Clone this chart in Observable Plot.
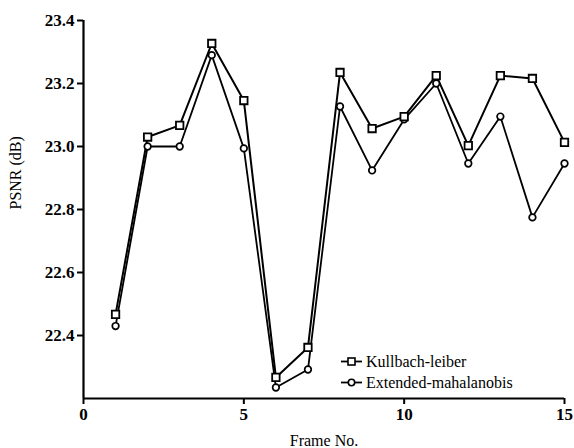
<!DOCTYPE html>
<html>
<head>
<meta charset="utf-8">
<script src="https://cdn.jsdelivr.net/npm/d3@7"></script>
<script src="https://cdn.jsdelivr.net/npm/@observablehq/plot@0.6"></script>
<style>
  html, body { margin: 0; padding: 0; background: #fff; }
  #wrap { position: relative; width: 574px; height: 448px; }
  #wrap svg text { font-family: 'Liberation Serif', 'Times New Roman', Times, 'DejaVu Serif', serif; }
  #legend { position: absolute; left: 340px; top: 351px; font-family: 'Liberation Serif', 'Times New Roman', Times, 'DejaVu Serif', serif; font-size: 16px; color: #000; }
  #legend .row { display: flex; align-items: center; height: 21px; }
  #legend svg { margin-right: 4px; }
</style>
</head>
<body>
<div id="wrap"><div id="legend"></div></div>
<script>
const frames = [1, 2, 3, 4, 5, 6, 7, 8, 9, 10, 11, 12, 13, 14, 15];
const kullback = [22.467, 23.03, 23.067, 23.327, 23.146, 22.267, 22.362, 23.235, 23.057, 23.095, 23.225, 23.003, 23.225, 23.216, 23.013];
const extended = [22.43, 23.0, 23.0, 23.29, 22.994, 22.235, 22.292, 23.127, 22.924, 23.086, 23.2, 22.946, 23.095, 22.775, 22.946];
const seriesNames = ["Kullbach-leiber", "Extended-mahalanobis"];
const xTicks = [0, 5, 10, 15];
const yTicks = [22.4, 22.6, 22.8, 23.0, 23.2, 23.4];

const kData = frames.map((f, i) => ({frame: f, psnr: kullback[i]}));
const eData = frames.map((f, i) => ({frame: f, psnr: extended[i]}));

const chart = Plot.plot({
  width: 574,
  height: 448,
  marginLeft: 83,
  marginRight: 10,
  marginTop: 20,
  marginBottom: 50,
  style: {fontSize: "15px", color: "#000", background: "#fff"},
  x: {domain: [0, 15]},
  y: {domain: [22.2, 23.4]},
  marks: [
    Plot.axisX({ticks: xTicks, tickSize: 6, tickPadding: 3, strokeWidth: 2, fontWeight: "bold", fontSize: 17, label: null}),
    Plot.axisY({ticks: yTicks, tickSize: 6, tickPadding: 3, strokeWidth: 2, fontWeight: "bold", fontSize: 17, tickFormat: d3.format(".1f"), label: null}),
    Plot.ruleX([0], {strokeWidth: 2.2}),
    Plot.ruleY([22.2], {strokeWidth: 2.2}),
    Plot.line(eData, {x: "frame", y: "psnr", stroke: "#000", strokeWidth: 1.8}),
    Plot.line(kData, {x: "frame", y: "psnr", stroke: "#000", strokeWidth: 2}),
    Plot.dot(eData, {x: "frame", y: "psnr", symbol: "circle", r: 3.3, fill: "#fff", stroke: "#000", strokeWidth: 1.7}),
    Plot.dot(kData, {x: "frame", y: "psnr", symbol: "square", r: 4.2, fill: "#fff", stroke: "#000", strokeWidth: 1.8}),
    Plot.text(["Frame No."], {frameAnchor: "bottom", dy: 47, fontSize: 16}),
    Plot.text(["PSNR (dB)"], {frameAnchor: "left", dx: -68, rotate: -90, fontSize: 16})
  ]
});
document.getElementById("wrap").prepend(chart);

// legend
const legend = document.getElementById("legend");
seriesNames.forEach((name, i) => {
  const row = document.createElement("div");
  row.className = "row";
  const marker = i === 0
    ? '<rect x="8" y="6" width="7" height="7" fill="#fff" stroke="#000" stroke-width="1.6"/>'
    : '<circle cx="11.5" cy="9.5" r="3.2" fill="#fff" stroke="#000" stroke-width="1.6"/>';
  row.innerHTML = `<svg width="22" height="19"><line x1="1" x2="22" y1="9.5" y2="9.5" stroke="#000" stroke-width="1.8"/>${marker}</svg><span>${name}</span>`;
  legend.appendChild(row);
});
</script>
</body>
</html>
